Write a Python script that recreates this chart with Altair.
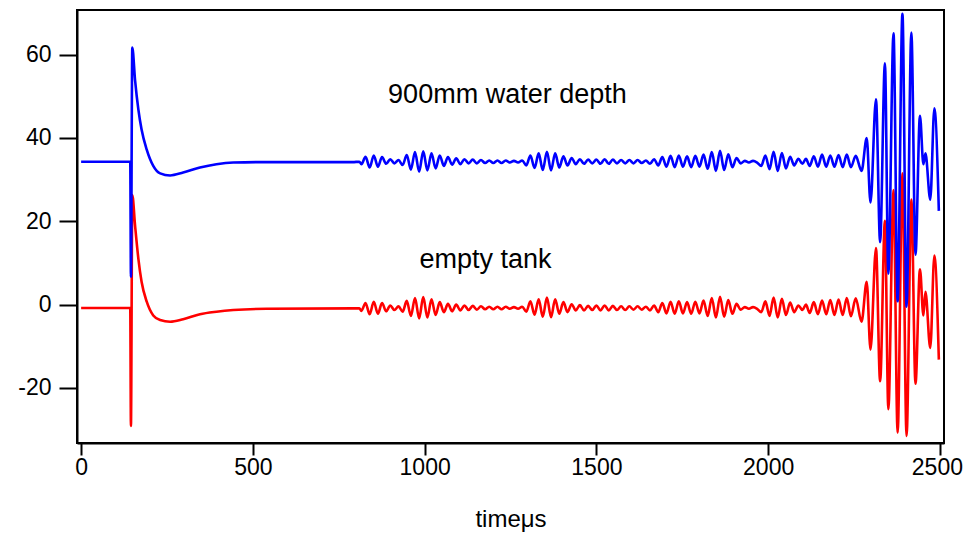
import altair as alt
import pandas as pd

# ---- data ----
# blue trace: 900mm water depth
blue_t = [0, 143, 145, 149, 157, 166.7, 176, 191, 210, 230, 259, 297, 346, 394, 443, 540, 791, 810,
          816, 828, 840, 852, 864, 876, 888, 900, 912, 924,
          936, 948, 960, 972, 984, 996, 1008, 1020, 1032, 1044, 1056, 1068, 1080, 1092, 1104, 1116, 1128, 1140,
          1152, 1164, 1176, 1188, 1200, 1212, 1224, 1236, 1248, 1260, 1272, 1284,
          1296, 1308, 1320, 1332, 1344, 1356, 1368, 1380, 1392, 1404, 1416, 1428, 1440, 1452,
          1464, 1476, 1488, 1500, 1512, 1524, 1536, 1548, 1560, 1572, 1584, 1596, 1608, 1620, 1632, 1644, 1656, 1668,
          1680, 1692, 1704, 1716, 1728, 1740, 1752, 1764, 1776, 1788, 1800,
          1812, 1824, 1836, 1848, 1860, 1872, 1884, 1896, 1908, 1920,
          1932, 1944, 1956, 1968,
          1980, 1992, 2004, 2016, 2028, 2040, 2052, 2064, 2076, 2088, 2100,
          2110, 2121, 2133, 2145, 2157, 2169, 2181, 2193, 2205, 2217, 2229, 2241, 2255, 2272,
          2287, 2298, 2314, 2326, 2340, 2350, 2365, 2377, 2391, 2403, 2417, 2429, 2442, 2452, 2458, 2472, 2484, 2497]
blue_v = [34.3, 34.3, 6.7, 61.7, 53.9, 46.8, 42.0, 37.2, 33.3, 31.5, 31.0, 31.7, 32.9, 33.7, 34.1, 34.2, 34.2, 34.3,
          33.7, 35.5, 32.9, 35.8, 33.1, 35.4, 33.8, 34.9, 33.9, 34.7,
          33.5, 35.9, 32.4, 36.6, 31.9, 36.8, 32.2, 36.3, 32.7, 35.8, 33.3, 35.4, 33.6, 35.1, 33.7, 34.9, 33.9, 34.8,
          33.9, 34.7, 34.0, 34.6, 34.0, 34.6, 34.0, 34.6, 34.1, 34.5, 34.1, 34.6,
          33.4, 35.8, 32.8, 36.3, 32.3, 36.7, 32.2, 36.3, 32.9, 35.6, 33.4, 35.2, 33.7, 34.9,
          33.8, 34.8, 33.9, 34.8, 33.8, 34.9, 33.8, 34.8, 33.9, 34.7, 33.9, 34.7, 33.9, 34.7, 34.0, 34.6, 33.8, 34.9,
          33.4, 35.4, 33.1, 35.7, 33.0, 35.8, 33.1, 35.6, 33.0, 35.7, 33.1,
          36.0, 32.6, 36.6, 32.1, 36.9, 32.3, 36.1, 33.0, 35.2, 33.9,
          34.5, 34.1, 34.5, 34.1,
          33.3, 35.8, 32.5, 36.7, 32.1, 36.4, 32.7, 35.5, 33.4, 35.0, 33.8,
          35.0, 33.3, 35.6, 33.1, 36.0, 33.1, 35.8, 33.1, 35.9, 33.0, 36.0, 33.0, 35.7, 32.1,
          40.0, 24.5, 49.3, 15.0, 57.9, 7.4, 65.1, 0.8, 69.8, -0.5, 65.3, 12.0, 45.3, 33.7, 36.3, 25.2, 47.1, 22.5]

# red trace: empty tank
red_t = list(blue_t)
red_v = [-0.8, -0.8, -29.1, 26.3, 19.0, 11.0, 5.5, 0.7, -2.6, -3.7, -4.1, -3.5, -2.3, -1.7, -1.3, -1.0, -0.9, -0.9,
         -1.5, 0.4, -2.3, 0.7, -2.2, 0.4, -1.6, -0.2, -1.3, -0.4,
         -1.7, 0.9, -2.7, 1.6, -3.3, 1.8, -3.1, 1.3, -2.5, 0.6, -1.8, 0.2, -1.6, 0.0, -1.4, -0.2, -1.3, -0.3,
         -1.2, -0.4, -1.1, -0.5, -1.1, -0.5, -1.1, -0.5, -1.0, -0.6, -1.0, -0.5,
         -1.7, 0.8, -2.4, 1.3, -2.9, 1.7, -3.0, 1.3, -2.2, 0.6, -1.8, 0.1, -1.4, -0.1,
         -1.4, -0.3, -1.3, -0.2, -1.4, -0.2, -1.4, -0.3, -1.3, -0.4, -1.3, -0.4, -1.2, -0.4, -1.2, -0.5, -1.4, -0.2,
         -1.8, 0.4, -2.1, 0.7, -2.2, 0.8, -2.1, 0.6, -2.2, 0.7, -2.1,
         1.0, -2.7, 1.6, -3.1, 1.9, -2.9, 1.1, -2.2, 0.2, -1.2,
         -0.6, -1.0, -0.6, -1.0,
         -1.8, 0.8, -2.7, 1.7, -3.1, 1.4, -2.5, 0.5, -1.8, -0.2, -1.3,
         0.0, -2.0, 0.6, -2.3, 1.0, -2.3, 1.1, -2.5, 1.2, -2.5, 1.6, -2.8, 1.5, -4.1,
         5.5, -10.8, 13.6, -18.4, 20.1, -25.1, 27.5, -30.7, 31.5, -31.5, 25.2, -19.0, 8.5, -2.6, 3.1, -10.4, 11.8, -13.2]

x_ticks = [0, 500, 1000, 1500, 2000, 2500]
y_ticks = [-20, 0, 20, 40, 60]

note_text = ["900mm water depth", "empty tank"]
note_t = [1241, 1177]
note_v = [50.2, 10.7]

FONT = "Liberation Sans"

df_blue = pd.DataFrame({"t": blue_t, "v": blue_v})
df_red = pd.DataFrame({"t": red_t, "v": red_v})
df_note = pd.DataFrame({"label": note_text, "t": note_t, "v": note_v})

xscale = alt.Scale(domain=[-12, 2512], nice=False, zero=False)
yscale = alt.Scale(domain=[-33.2, 70.7], nice=False, zero=False)

xenc = alt.X("t:Q", scale=xscale,
             axis=alt.Axis(values=x_ticks, title="timeμs", labelExpr="datum.value + ''", grid=False,
                           tickSize=12, labelPadding=1, titlePadding=28,
                           labelOffset={"condition": {"test": "datum.value == 2500", "value": -3}, "value": 0}))
yenc = alt.Y("v:Q", scale=yscale,
             axis=alt.Axis(values=y_ticks, title=None, labelExpr="datum.value + ''", grid=False,
                           tickSize=18, labelPadding=8))

red_line = alt.Chart(df_red).mark_line(
    interpolate="monotone", color="#ff0000", strokeWidth=2.6, clip=True
).encode(x=xenc, y=yenc)

blue_line = alt.Chart(df_blue).mark_line(
    interpolate="monotone", color="#0000ff", strokeWidth=2.6, clip=True
).encode(x=xenc, y=yenc)

notes = alt.Chart(df_note).mark_text(
    font=FONT, fontSize=27, color="black", align="center", baseline="middle"
).encode(x="t:Q", y="v:Q", text="label:N")

chart = alt.layer(red_line, blue_line, notes).properties(
    width=867, height=433,
    padding={"left": 69, "top": 2, "right": 19, "bottom": 89},
    autosize=alt.AutoSizeParams(type="none"),
).configure_view(
    stroke="black", strokeWidth=2
).configure_axis(
    domainColor="black", domainWidth=2, tickColor="black", tickWidth=2,
    labelFont=FONT, labelFontSize=23, labelColor="black",
    titleFont=FONT, titleFontSize=24, titleFontWeight="normal", titleColor="black",
)

chart.save("out.html", embed_options={"renderer": "svg", "actions": False})
